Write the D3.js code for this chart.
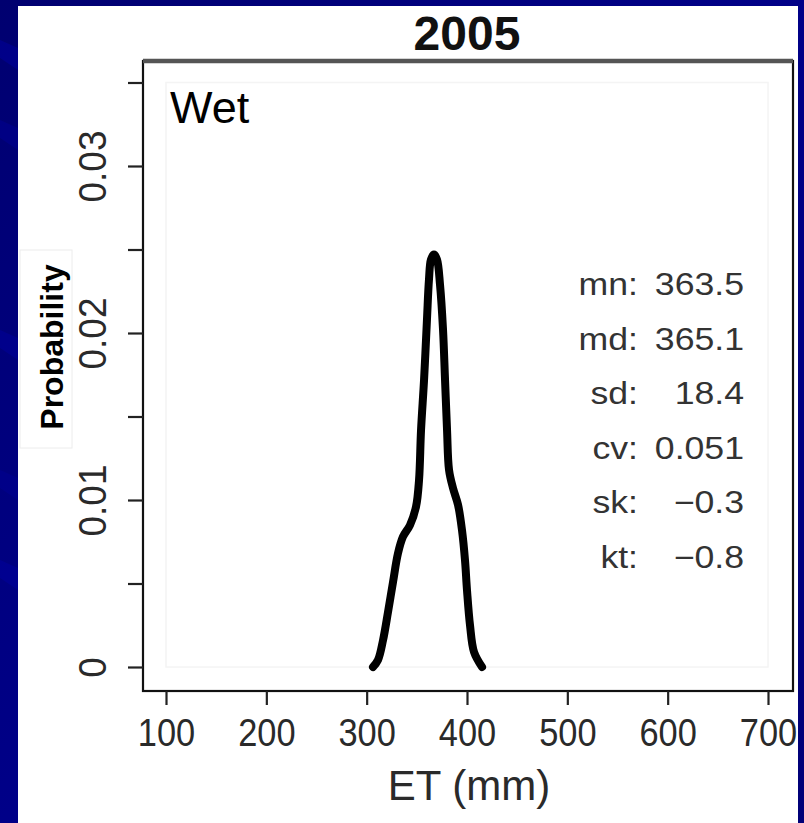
<!DOCTYPE html>
<html>
<head>
<meta charset="utf-8">
<script src="https://cdn.jsdelivr.net/npm/d3@7"></script>
<style>
html,body{margin:0;padding:0;background:#00007c;}
svg{display:block;}
text{font-family:"Liberation Sans",Arial,Helvetica,sans-serif;}
</style>
</head>
<body>
<svg id="chart" width="804" height="823"></svg>
<script>
// ---- data ----
const title = "2005";
const panelLabel = "Wet";
const xLabel = "ET (mm)";
const yLabel = "Probability";
const xTicks = [100, 200, 300, 400, 500, 600, 700];
const yTicks = [0, 0.005, 0.01, 0.015, 0.02, 0.025, 0.03, 0.035];
const yTickLabels = ["0", "", "0.01", "", "0.02", "", "0.03", ""];
const etValues = [306.3, 311.3, 316.3, 321.3, 326.3, 331.2, 336.2, 343.2, 349.2, 352.2, 354.2, 357.2, 360.1, 362.1, 364.1, 367.1, 370.1, 373.1, 376.1, 378.1, 380.1, 382.1, 386.1, 391.1, 395.0, 398.0, 400.0, 403.0, 407.0, 415.0];
const probValues = [0, 0.00042, 0.0016, 0.0033, 0.0051, 0.0068, 0.0078, 0.0085, 0.0096, 0.0112, 0.0142, 0.0172, 0.0208, 0.0232, 0.0244, 0.0247, 0.0244, 0.0229, 0.0202, 0.0172, 0.0142, 0.0118, 0.0107, 0.0097, 0.0082, 0.0064, 0.0046, 0.0025, 0.0009, 0];
const statNames = ["mn:", "md:", "sd:", "cv:", "sk:", "kt:"];
const statValues = ["363.5", "365.1", "18.4", "0.051", "\u22120.3", "\u22120.8"];

// ---- drawing ----
const svg = d3.select("#chart");

// background (blue slide)
const defs = svg.append("defs");
const grad = defs.append("linearGradient").attr("id", "bg").attr("x1", "0").attr("y1", "0").attr("x2", "1").attr("y2", "1");
grad.append("stop").attr("offset", "0").attr("stop-color", "#000070");
grad.append("stop").attr("offset", "0.5").attr("stop-color", "#000088");
grad.append("stop").attr("offset", "1").attr("stop-color", "#000078");
svg.append("rect").attr("width", 804).attr("height", 823).attr("fill", "url(#bg)");
// faint diagonal streaks on the left strip
[[40, 0.35], [120, 0.25], [330, 0.3], [470, 0.2], [560, 0.3]].forEach(([y0, op]) => {
  svg.append("path")
    .attr("d", `M0,${y0} L18,${y0 + 8} L18,${y0 + 30} L0,${y0 + 18} Z`)
    .attr("fill", "#0000b4").attr("opacity", op);
});

// white panel, clipped
defs.append("clipPath").attr("id", "panelClip")
  .append("rect").attr("x", 18).attr("y", 6).attr("width", 780).attr("height", 817);
svg.append("rect").attr("x", 18).attr("y", 6).attr("width", 780).attr("height", 817).attr("fill", "#ffffff");
const g = svg.append("g").attr("clip-path", "url(#panelClip)");

const x = d3.scaleLinear().domain([100, 700]).range([166, 768]);
const y = d3.scaleLinear().domain([0, 0.035]).range([667, 82.5]);

const frame = {x0: 143, y0: 61, x1: 793, y1: 691};

// faint inner region lines
g.append("rect").attr("x", x(100)).attr("y", y(0.035)).attr("width", x(700) - x(100)).attr("height", y(0) - y(0.035))
  .attr("fill", "none").attr("stroke", "#f4f4f4").attr("stroke-width", 1.5);

// frame
g.append("rect").attr("x", frame.x0).attr("y", frame.y0).attr("width", frame.x1 - frame.x0).attr("height", frame.y1 - frame.y0)
  .attr("fill", "none").attr("stroke", "#111").attr("stroke-width", 2.2);
g.append("line").attr("x1", frame.x0).attr("x2", frame.x1).attr("y1", frame.y0).attr("y2", frame.y0)
  .attr("stroke", "#555").attr("stroke-width", 4.5);

// x axis
const xAxis = d3.axisBottom(x).tickValues(xTicks).tickSize(14).tickPadding(12).tickFormat(d3.format("d"));
const gx = g.append("g").attr("transform", `translate(0,${frame.y1})`).call(xAxis);
gx.select(".domain").remove();
gx.selectAll(".tick line").attr("stroke", "#222").attr("stroke-width", 2.2);
gx.selectAll(".tick text").attr("fill", "#2a2a2a").attr("font-size", 37).attr("dy", "0.72em")
  .attr("x", 0).attr("transform", "translate(0,-1) scale(0.93,1.06)");

// y axis
const yAxis = d3.axisLeft(y).tickValues(yTicks).tickSize(15).tickFormat((d, i) => yTickLabels[i]);
const gy = g.append("g").attr("transform", `translate(${frame.x0},0)`).call(yAxis);
gy.select(".domain").remove();
gy.selectAll(".tick line").attr("stroke", "#222").attr("stroke-width", 2.2);
gy.selectAll(".tick text").attr("fill", "#2a2a2a").attr("font-size", 37)
  .attr("text-anchor", "middle").attr("dy", 0).attr("x", 0)
  .attr("transform", "translate(-37,0) rotate(-90) scale(1,1.05)");

// density curve
const pts = etValues.map((v, i) => [v, probValues[i]]);
const line = d3.line().x(d => x(d[0])).y(d => y(d[1])).curve(d3.curveCatmullRom.alpha(0.5));
g.append("path").datum(pts).attr("d", line)
  .attr("fill", "none").attr("stroke", "#000").attr("stroke-width", 8)
  .attr("stroke-linecap", "round").attr("stroke-linejoin", "round");

// title
g.append("text").attr("x", 467).attr("y", 50).attr("text-anchor", "middle")
  .attr("font-size", 48).attr("font-weight", "bold").attr("fill", "#111").text(title);

// panel label
g.append("text").attr("x", 170).attr("y", 123).attr("font-size", 45).attr("fill", "#000").text(panelLabel);

// stats
const rowY = d3.scalePoint().domain(d3.range(statNames.length)).range([295, 568]);
const stats = g.append("g");
statNames.forEach((n, i) => {
  stats.append("text").attr("transform", `translate(638,${rowY(i)}) scale(1.15,1)`).attr("text-anchor", "end")
    .attr("font-size", 31).attr("fill", "#333").text(n);
  stats.append("text").attr("transform", `translate(744,${rowY(i)}) scale(1.15,1)`).attr("text-anchor", "end")
    .attr("font-size", 31).attr("fill", "#333").text(statValues[i]);
});

// x label
g.append("text").attr("x", 469).attr("y", 800).attr("text-anchor", "middle")
  .attr("font-size", 42).attr("fill", "#2a2a2a").text(xLabel);

// y label box + text
g.append("rect").attr("x", 20).attr("y", 250).attr("width", 52).attr("height", 198)
  .attr("fill", "#fff").attr("stroke", "#ececec").attr("stroke-width", 1);
g.append("text").attr("transform", "translate(63,347) rotate(-90)").attr("text-anchor", "middle")
  .attr("font-size", 32).attr("font-weight", "bold").attr("fill", "#000").text(yLabel);
</script>
</body>
</html>
